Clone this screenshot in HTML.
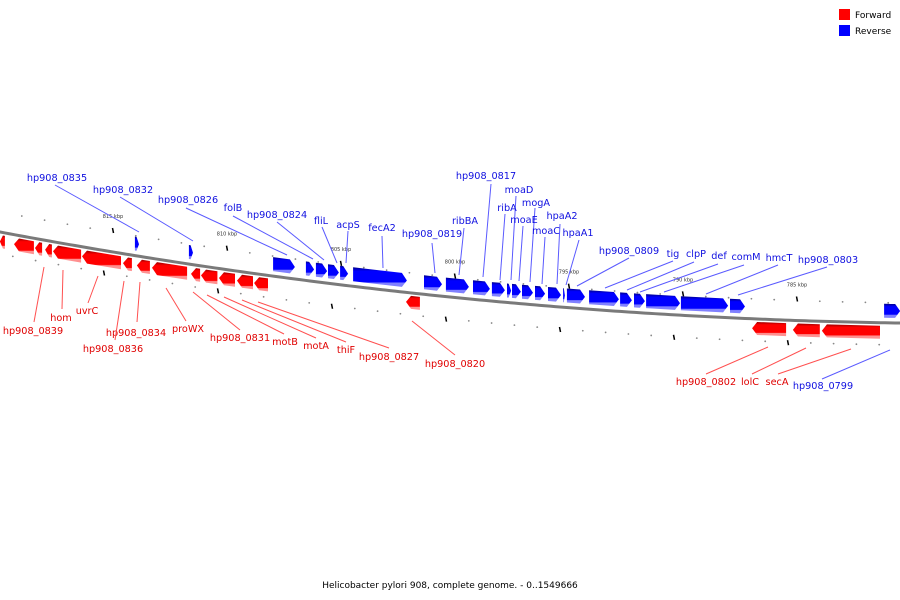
<!DOCTYPE html>
<html><head><meta charset="utf-8"><style>
body{margin:0;background:#fff;}
svg{display:block;font-family:"DejaVu Sans","Liberation Sans",sans-serif;}
</style></head><body>
<svg id="chart" width="900" height="600" viewBox="0 0 900 600" xmlns="http://www.w3.org/2000/svg">
<defs>
<linearGradient id="gr" x1="0" y1="0" x2="0" y2="1"><stop offset="0" stop-color="#9a0000"/><stop offset="0.2" stop-color="#ff0000"/><stop offset="0.75" stop-color="#ff0000"/><stop offset="0.8" stop-color="#ff9090"/><stop offset="1" stop-color="#ff9090"/></linearGradient>
<linearGradient id="gb" x1="0" y1="0" x2="0" y2="1"><stop offset="0" stop-color="#00008a"/><stop offset="0.2" stop-color="#0000ff"/><stop offset="0.75" stop-color="#0000ff"/><stop offset="0.8" stop-color="#8080ff"/><stop offset="1" stop-color="#8080ff"/></linearGradient>
</defs>
<g id="ticks"></g>
<path id="backbone" fill="none" stroke="#7a7a7a" stroke-width="3"/>
<g id="genes"></g>
<g id="labels"></g>
<g>
<rect x="839" y="9" width="11" height="11" fill="#ff0000"/>
<text x="855" y="18" font-size="9">Forward</text>
<rect x="839" y="25" width="11" height="11" fill="#0000ff"/>
<text x="855" y="34" font-size="9">Reverse</text>
</g>
<text x="450" y="588" font-size="9" text-anchor="middle">Helicobacter pylori 908, complete genome. - 0..1549666</text>
</svg>
<script>
// gene data (kbp)
const redStarts=[819.96,819.34,818.42,817.98,817.63,816.36,814.56,813.95,813.29,811.58,811.14,810.35,809.56,808.81,802.15,786.97,785.18,783.91];
const redEnds=[819.74,818.47,818.11,817.68,816.40,814.65,814.17,813.38,811.75,811.18,810.42,809.65,808.86,808.20,801.54,785.48,784.00,781.36];
const blueStarts=[814.04,811.67,807.98,806.54,806.10,805.57,805.04,804.47,801.36,800.40,799.21,798.38,797.72,797.50,797.06,796.49,795.92,795.26,795.09,794.12,792.76,792.15,791.62,790.09,787.94,781.18];
const blueEnds=[813.86,811.49,807.02,806.18,805.61,805.09,804.69,802.11,800.57,799.39,798.47,797.81,797.54,797.11,796.58,796.05,795.35,795.18,794.30,792.81,792.24,791.67,790.13,788.02,787.28,780.48];
const majorTicks=[815,810,805,800,795,790,785];
const minorTicks=[];for(let k=781;k<=820;k++)minorTicks.push(k);
const labelTexts=["hp908_0835","hp908_0832","hp908_0826","folB","hp908_0824","fliL","acpS","fecA2","hp908_0819","ribBA","hp908_0817","moaD","ribA","mogA","moaE","moaC","hpaA2","hpaA1","hp908_0809","tig","clpP","def","comM","hmcT","hp908_0803","hp908_0799",
"hp908_0839","hom","uvrC","hp908_0834","hp908_0836","proWX","hp908_0831","motB","motA","thiF","hp908_0827","hp908_0820","hp908_0802","lolC","secA"];
const labelColors="BBBBBBBBBBBBBBBBBBBBBBBBBBRRRRRRRRRRRRRRR";
const labelPos=[[57,181,55,185,139,232],[123,193,120,197,193,241],[188,203,186,208,287,255],[233,211,233,216,313,259],[277,218,277,222,324,260],[321,224,322,227,337,263],[348,228,348,231,346,263],[382,231,382,236,383,268],[432,237,432,243,435,273],[465,224,464,228,459,275],
[486,179,491,184,483,277],[519,193,516,196,511,280],[507,211,505,214,500,280],[536,206,535,208,530,282],[524,223,523,226,519,281],[546,234,545,237,542,284],[562,219,560,224,557,284],[578,236,579,240,566,285],[629,254,629,258,577,286],[673,257,673,261,605,288],
[696,257,694,262,627,290],[719,259,718,264,640,292],[746,260,744,265,664,292],[779,261,778,265,706,294],[828,263,827,267,738,295],[823,389,822,379,890,350],
[33,334,34,322,44,267],[61,321,62,309,63,270],[87,314,88,303,98,276],[136,336,137,322,140,282],[113,352,115,340,124,281],[188,332,186,321,166,288],[240,341,240,330,193,292],[285,345,284,334,207,295],[316,349,316,338,224,297],[346,353,346,342,242,300],
[389,360,389,348,258,302],[455,367,455,355,412,321],[706,385,706,374,768,347],[750,385,752,374,806,348],[777,385,778,374,851,349]];

const NS="http://www.w3.org/2000/svg";
function X(k){return 113+(815-k)*22.8;}
function C(x){return 232+0.1878*x-9.63e-5*x*x;}
function mk(tag,attrs,parent){const e=document.createElementNS(NS,tag);for(const a in attrs)e.setAttribute(a,attrs[a]);parent.appendChild(e);return e;}

let d="";for(let x=-5;x<=905;x+=5)d+=(x===-5?"M":"L")+x+","+C(x).toFixed(2);
document.getElementById("backbone").setAttribute("d",d);

const tg=document.getElementById("ticks");
minorTicks.forEach(k=>{
  if(k%5===0)return;
  const x=X(k);
  const a=mk("circle",{cx:x,cy:C(x)-20,r:0.9,fill:"#888"},tg);
  
  
  const xb=x-9;
  const b=mk("circle",{cx:xb,cy:C(xb)+22,r:0.9,fill:"#888"},tg);
  
  
});
majorTicks.forEach(k=>{
  const x=X(k);
  const l=mk("line",{x1:x-0.5,y1:C(x)-24,x2:x+0.5,y2:C(x)-19,stroke:"#000","stroke-width":1.5},tg);
  
  
  const t=mk("text",{x:x,y:C(x)-34,"font-size":5,"text-anchor":"middle",fill:"#333"},tg);
  
  
  t.textContent=k+" kbp";
  const xb=x-9;
  const l2=mk("line",{x1:xb-0.5,y1:C(xb)+20,x2:xb+0.5,y2:C(xb)+25,stroke:"#000","stroke-width":1.5},tg);
  
  
});

const gg=document.getElementById("genes");
function gene(k1,k2,red){
  const x1=Math.min(X(k1),X(k2)),x2=Math.max(X(k1),X(k2));
  const h=Math.min(5,(x2-x1)*0.6);
  let o1,o2;
  if(red){o1=3;o2=16;}else{o1=-19;o2=-5;}
  const c1=C(x1),c2=C(x2);
  let pts;
  if(red){
    const cm=C(x1+h);
    pts=[[x1,c1+(o1+o2)/2],[x1+h,cm+o1],[x2,c2+o1],[x2,c2+o2],[x1+h,cm+o2]];
  }else{
    const cm=C(x2-h);
    pts=[[x1,c1+o1],[x2-h,cm+o1],[x2,c2+(o1+o2)/2],[x2-h,cm+o2],[x1,c1+o2]];
  }
  const p=mk("polygon",{points:pts.map(q=>q[0].toFixed(1)+","+q[1].toFixed(1)).join(" "),fill:red?"url(#gr)":"url(#gb)"},gg);
  
  
}
redStarts.forEach((s,i)=>gene(s,redEnds[i],true));
blueStarts.forEach((s,i)=>gene(s,blueEnds[i],false));

const lg=document.getElementById("labels");
labelTexts.forEach((t,i)=>{
  const p=labelPos[i],red=labelColors[i]==="R";
  const ln=mk("line",{x1:p[2],y1:p[3],x2:p[4],y2:p[5],stroke:red?"#ff5050":"#5a5aff","stroke-width":1},lg);
  
  
  const tx=mk("text",{x:p[0],y:p[1],"font-size":9.7,"text-anchor":"middle",fill:red?"#e00000":"#1010e0"},lg);
  
  
  tx.textContent=t;
});
</script>
</body></html>
